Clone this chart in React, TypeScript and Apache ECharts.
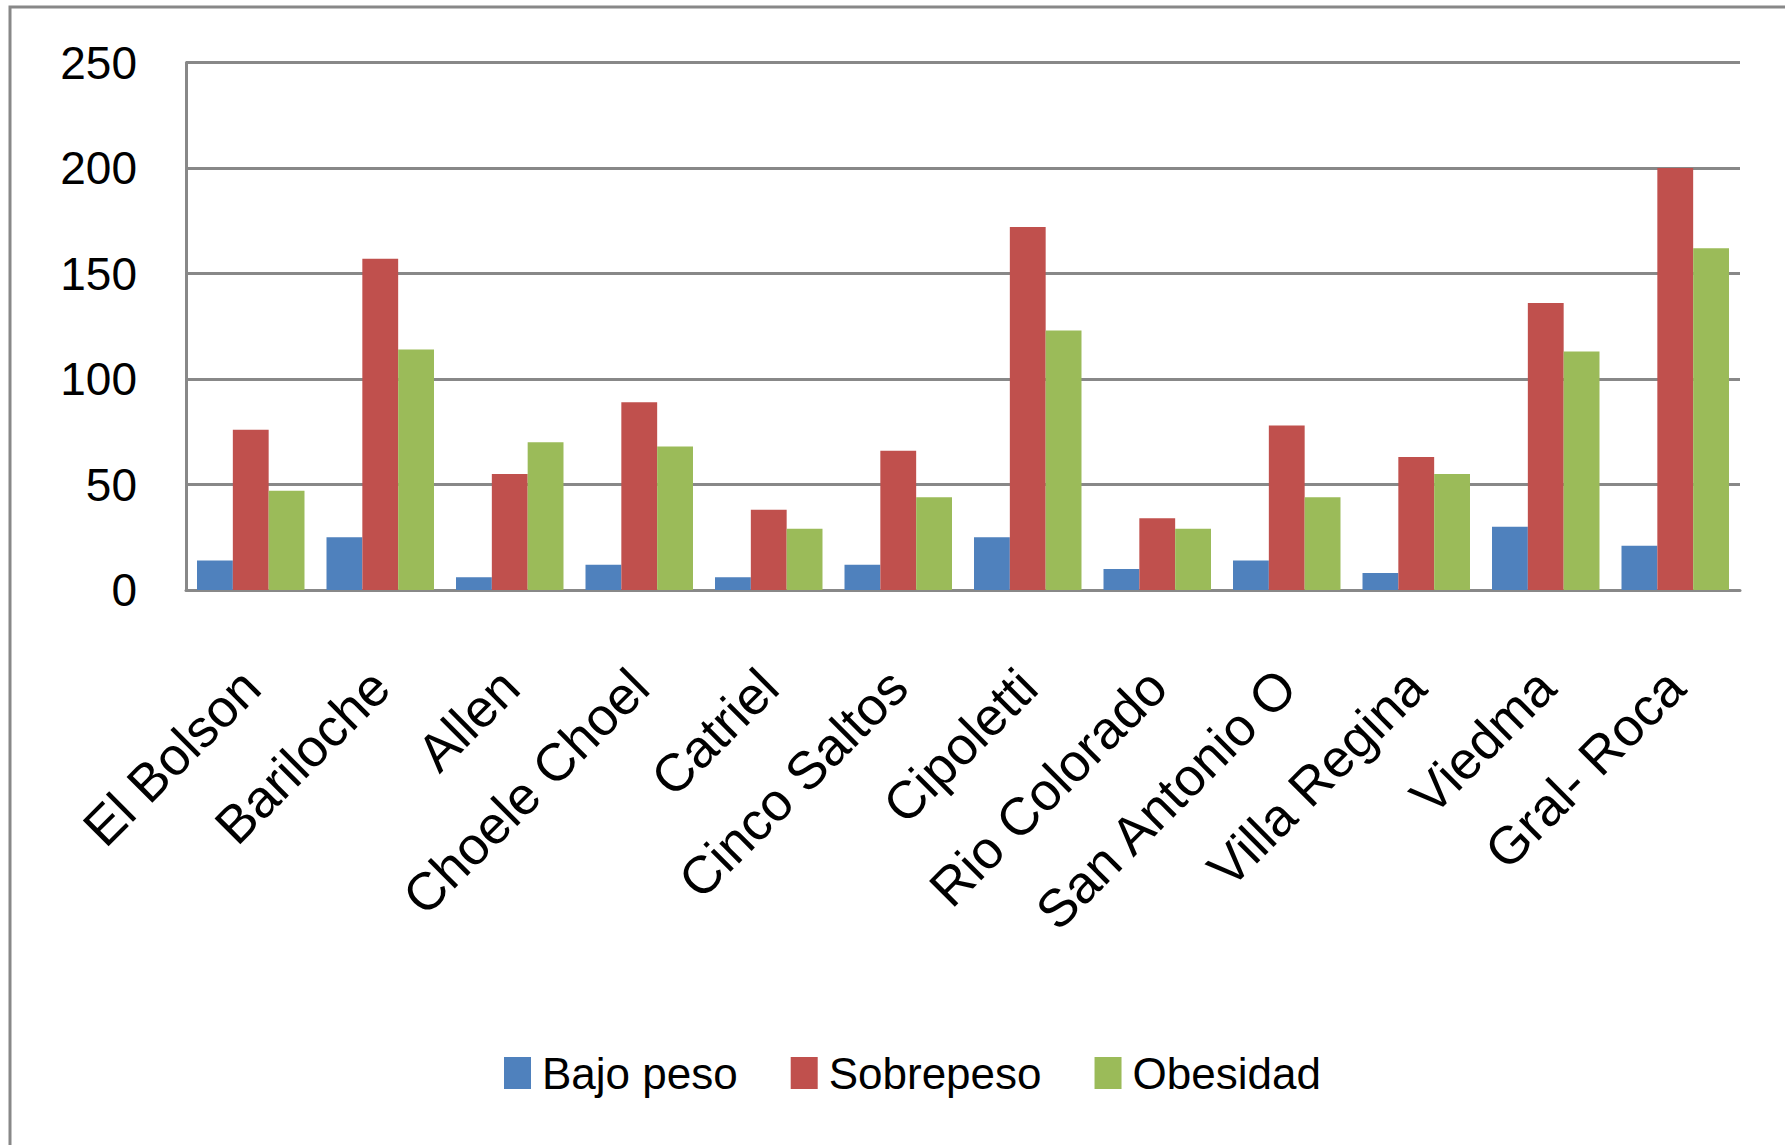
import React, { useEffect, useRef } from "react";
import * as echarts from "echarts";

const categories = [
  "El Bolson",
  "Bariloche",
  "Allen",
  "Choele Choel",
  "Catriel",
  "Cinco Saltos",
  "Cipoletti",
  "Rio Colorado",
  "San Antonio O",
  "Villa Regina",
  "Viedma",
  "Gral- Roca",
];
const bajoPeso = [14, 25, 6, 12, 6, 12, 25, 10, 14, 8, 30, 21];
const sobrepeso = [76, 157, 55, 89, 38, 66, 172, 34, 78, 63, 136, 200];
const obesidad = [47, 114, 70, 68, 29, 44, 123, 29, 44, 55, 113, 162];
const seriesNames = ["Bajo peso", "Sobrepeso", "Obesidad"];
const colors = ["#4F81BD", "#C0504D", "#9BBB59"];

export default function App() {
  const ref = useRef<HTMLDivElement>(null);
  useEffect(() => {
    if (!ref.current) return;
    const chart = echarts.init(ref.current, null, { renderer: "svg" });
    const font = "'Liberation Sans', Arial, sans-serif";
    const data = [bajoPeso, sobrepeso, obesidad];
    chart.setOption({
      animation: false,
      backgroundColor: "#ffffff",
      color: colors,
      graphic: [
        {
          type: "rect",
          shape: { x: 10, y: 7, width: 1820, height: 1200 },
          style: { fill: "none", stroke: "#888888", lineWidth: 3 },
          silent: true,
        },
      ],
      grid: { left: 186, right: 45, top: 62.5, bottom: 555, containLabel: false },
      legend: {
        left: 499,
        top: 1046,
        itemWidth: 27,
        itemHeight: 32,
        itemGap: 53,
        icon: "rect",
        data: seriesNames,
        textStyle: {
          fontFamily: font,
          fontSize: 44,
          color: "#000000",
          padding: [0, 0, 0, 6],
        },
      },
      xAxis: {
        type: "category",
        data: categories,
        axisLine: { show: true, lineStyle: { color: "#888888", width: 3 } },
        axisTick: { show: false },
        axisLabel: {
          interval: 0,
          rotate: 45,
          margin: 88,
          fontFamily: font,
          fontSize: 53,
          color: "#000000",
        },
      },
      yAxis: {
        type: "value",
        min: 0,
        max: 250,
        interval: 50,
        axisLine: { show: true, lineStyle: { color: "#888888", width: 3 } },
        axisTick: { show: false },
        splitLine: { show: true, lineStyle: { color: "#888888", width: 3 } },
        axisLabel: {
          margin: 49,
          fontFamily: font,
          fontSize: 46,
          color: "#000000",
        },
      },
      series: seriesNames.map((name, i) => ({
        name,
        type: "bar",
        data: data[i],
        barGap: "0%",
        barCategoryGap: "17%",
        itemStyle: { color: colors[i] },
      })),
    });
    return () => chart.dispose();
  }, []);
  return (
    <div
      ref={ref}
      style={{ position: "fixed", left: 0, top: 0, width: 1785, height: 1145 }}
    />
  );
}
